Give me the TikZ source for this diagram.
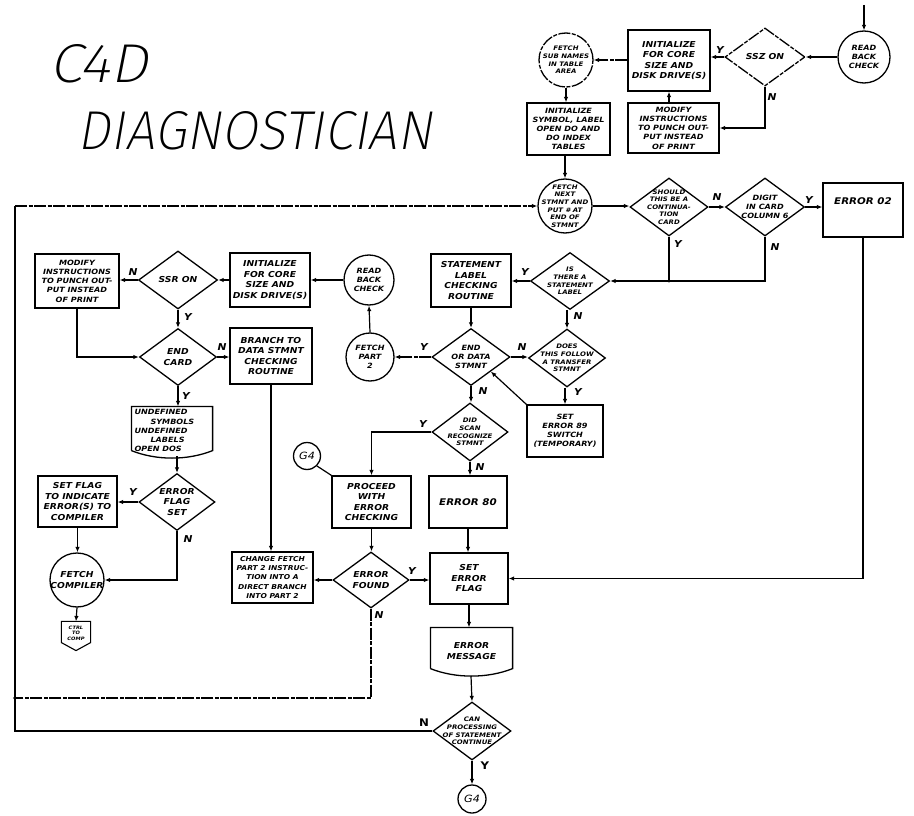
\documentclass[tikz,border=0pt]{standalone}
\usepackage{fontspec}
\usepackage{graphicx}
\usetikzlibrary{shapes.geometric,arrows.meta}
\newfontfamily\hand{DejaVu Sans}[FakeStretch=1.12]
\IfFontExistsTF{Fira Sans ExtraLight}{\newfontfamily\titlefont{Fira Sans ExtraLight}[FakeSlant=0.18]}{\newfontfamily\titlefont{Fira Sans}[FakeSlant=0.18]}
\begin{document}
\begin{tikzpicture}[x=1pt,y=-1pt,line width=1.2pt,
  >={Latex[length=5.5pt,width=4.5pt]},
  txt/.style={font=\hand\bfseries\itshape\fontsize{8.2}{10.5}\selectfont, align=center},
  big/.style={font=\hand\bfseries\itshape\fontsize{9.2}{11}\selectfont},
  small/.style={font=\hand\bfseries\itshape\fontsize{7.2}{9.2}\selectfont},
  smaller/.style={font=\hand\bfseries\itshape\fontsize{6.7}{9.2}\selectfont},
  tiny/.style={font=\hand\bfseries\itshape\fontsize{6.2}{7.6}\selectfont},
  box/.style={draw, rectangle, inner sep=0pt, line width=1.3pt, txt},
  dia/.style={draw, diamond, inner sep=0pt, line width=1.3pt},
  circ/.style={draw, circle, inner sep=0pt, line width=1.3pt},
  yn/.style={font=\hand\bfseries\itshape\fontsize{9.5}{9.5}\selectfont, inner sep=0pt},
  ynb/.style={font=\hand\bfseries\fontsize{10.5}{10.5}\selectfont, inner sep=0pt},
  ar/.style={->, line width=1.2pt},
  oar/.style={-{Latex[open,length=5.5pt,width=4.5pt]}, line width=1.2pt},
  rough/.style={dash pattern=on 12pt off 1.5pt on 4pt off 1.5pt}]
\fill[white] (0,0) rectangle (914,816);
\useasboundingbox (0,0) rectangle (914,816);

% title
\node[inner sep=0pt] (t1) at (99,64) {\resizebox{98pt}{38pt}{\titlefont C4D}};
\node[inner sep=0pt] (t2) at (255,131) {\resizebox{354pt}{38pt}{\titlefont DIAGNOSTICIAN}};

% top right group
\node[circ, minimum size=52pt, label={[txt,small]center:{READ\\BACK\\CHECK}}] (rbc1) at (864,57) {};
\node[dia, rough, minimum width=80pt, minimum height=58pt, label={[txt]center:SSZ ON}] (ssz) at (765,57) {};
\node[box, minimum width=82pt, minimum height=61pt] (init1) at (669,60.5) {INITIALIZE\\FOR CORE\\SIZE AND\\DISK DRIVE(S)};
\node[circ, rough, minimum size=54pt, label={[txt,tiny]center:{FETCH\\SUB NAMES\\IN TABLE\\AREA}}] (fsub) at (566,60) {};
\node[box, small, minimum width=83pt, minimum height=52pt] (initsym) at (568.5,129) {INITIALIZE\\SYMBOL, LABEL\\OPEN DO AND\\DO INDEX\\TABLES};
\node[box, small, minimum width=91pt, minimum height=50pt] (mod1) at (673.5,128) {MODIFY\\INSTRUCTIONS\\TO PUNCH OUT-\\PUT INSTEAD\\OF PRINT};

% second row
\node[circ, minimum size=54pt, label={[txt,tiny]center:{FETCH\\NEXT\\STMNT AND\\PUT \# AT\\END OF\\STMNT}}] (fnext) at (565,206) {};
\node[dia, minimum width=78pt, minimum height=58pt, label={[txt,tiny]center:{SHOULD\\THIS BE A\\CONTINUA-\\TION\\CARD}}] (should) at (669,207) {};
\node[dia, minimum width=79pt, minimum height=58pt, label={[txt,small]center:{DIGIT\\IN CARD\\COLUMN 6}}] (digit) at (765,207) {};
\node[box, minimum width=80pt, minimum height=54pt, label={[txt,big,yshift=9pt]center:ERROR 02}] (err02) at (863,210) {};

% statement label row
\node[dia, minimum width=79pt, minimum height=57pt, label={[txt,tiny]center:{IS\\THERE A\\STATEMENT\\LABEL}}] (isthere) at (570,281) {};
\node[box, minimum width=80pt, minimum height=53pt] (stlab) at (471,280.5) {STATEMENT\\LABEL\\CHECKING\\ROUTINE};
\node[dia, minimum width=78pt, minimum height=57pt, label={[txt,small]center:{END\\OR DATA\\STMNT}}] (enddata) at (471,357) {};
\node[dia, minimum width=77pt, minimum height=58pt, label={[txt,tiny]center:{DOES\\THIS FOLLOW\\A TRANSFER\\STMNT}}] (does) at (567,358) {};
\node[box, small, minimum width=76pt, minimum height=52pt] (set89) at (565,431) {SET\\ERROR 89\\SWITCH\\(TEMPORARY)};
\node[circ, minimum size=48pt, label={[txt,small]center:{FETCH\\PART\\2}}] (fpart2) at (370,357) {};
\node[circ, minimum size=50pt, label={[txt,small]center:{READ\\BACK\\CHECK}}] (rbc2) at (369,280) {};

% left group
\node[box, minimum width=80pt, minimum height=54pt] (init2) at (270,280) {INITIALIZE\\FOR CORE\\SIZE AND\\DISK DRIVE(S)};
\node[dia, minimum width=79pt, minimum height=58pt, label={[txt]center:SSR ON}] (ssr) at (178,280) {};
\node[box, small, minimum width=84pt, minimum height=54pt] (mod2) at (77,281) {MODIFY\\INSTRUCTIONS\\TO PUNCH OUT-\\PUT INSTEAD\\OF PRINT};
\node[dia, minimum width=77pt, minimum height=57pt, label={[txt]center:{END\\CARD}}] (endcard) at (178,357) {};
\node[box, minimum width=82pt, minimum height=56pt] (branch) at (271,356) {BRANCH TO\\DATA STMNT\\CHECKING\\ROUTINE};
\node[draw=none, minimum width=80pt, minimum height=43pt, inner sep=0pt] (undef) at (172,428.5) {};
\draw[line width=1.3pt] (undef.south west) -- (undef.north west) -- (undef.north east) -- (undef.south east)
  .. controls +(-25,10) and +(25,10) .. (undef.south west);
\node[txt, small, align=left, anchor=north west, inner sep=0pt] (undeft) at (134,409) {UNDEFINED\\\hspace*{16pt}SYMBOLS\\UNDEFINED\\\hspace*{16pt}LABELS\\OPEN DOS};
\coordinate (undefb) at (177,456);
\node[dia, minimum width=76pt, minimum height=57pt, label={[txt]center:{ERROR\\FLAG\\SET}}] (efset) at (177,502) {};
\node[box, minimum width=79pt, minimum height=51pt] (setflag) at (77.5,501.5) {SET FLAG\\TO INDICATE\\ERROR(S) TO\\COMPILER};
\node[circ, minimum size=54pt, label={[txt]center:{FETCH\\COMPILER}}] (fcomp) at (77,580) {};
\node[draw=none, minimum width=28pt, minimum height=20pt, inner sep=0pt] (ctrl) at (76,632) {};
\draw[line width=1.1pt] (ctrl.north west) -- (ctrl.north east) -- (ctrl.south east) -- ([yshift=-8pt]ctrl.south) -- (ctrl.south west) -- cycle;
\node[font=\hand\bfseries\itshape\fontsize{4.6}{5.4}\selectfont, align=center, inner sep=0pt] (ctrlt) at (76,633) {CTRL\\TO\\COMP};

% middle lower group
\node[dia, minimum width=76pt, minimum height=58pt, label={[txt,tiny]center:{DID\\SCAN\\RECOGNIZE\\STMNT}}] (did) at (470,432) {};
\node[box, minimum width=79pt, minimum height=52pt] (proceed) at (371.5,502) {PROCEED\\WITH\\ERROR\\CHECKING};
\node[circ, minimum size=27pt, label={[txt,font=\hand\itshape\fontsize{10}{10}\selectfont]center:G4}] (g4a) at (307,456) {};
\node[dia, minimum width=76pt, minimum height=56pt, label={[txt]center:{ERROR\\FOUND}}] (efound) at (371,580) {};
\node[box, smaller, minimum width=81pt, minimum height=51pt] (change) at (272.5,577.5) {CHANGE FETCH\\PART 2 INSTRUC-\\TION INTO A\\DIRECT BRANCH\\INTO PART 2};
\node[box, big, minimum width=78pt, minimum height=52pt] (err80) at (468,502) {ERROR 80};
\node[box, minimum width=78pt, minimum height=51pt] (seterr) at (469,578.5) {SET\\ERROR\\FLAG};
\node[draw=none, minimum width=81pt, minimum height=40pt, inner sep=0pt, label={[txt,yshift=-3pt]center:{ERROR\\MESSAGE}}] (errmsg) at (471.5,648) {};
\draw[line width=1.3pt] (errmsg.south west) -- (errmsg.north west) -- (errmsg.north east) -- (errmsg.south east)
  .. controls +(-25,10) and +(25,10) .. (errmsg.south west);
\coordinate (errmsgb) at (471,676);
\node[dia, minimum width=78pt, minimum height=58pt, label={[txt,tiny]center:{CAN\\PROCESSING\\OF STATEMENT\\CONTINUE}}] (canproc) at (472,731) {};
\node[circ, minimum size=28pt, label={[txt,font=\hand\itshape\fontsize{10}{10}\selectfont]center:G4}] (g4b) at (472,799) {};

% loop corners
\coordinate (L1) at (15,206);
\coordinate (L2) at (15,731);
\coordinate (L3) at (15,698);

% connectors
\coordinate (start) at (864,5);
\draw[ar] (start) -- (rbc1.north);
\draw[ar] (rbc1.west) -- (ssz.east);
\draw[ar] (ssz.west) -- (ssz.west -| init1.east);
\draw[ar,rough] (init1.west |- fsub.east) -- (fsub.east);
\draw[ar] (fsub.south) -- (fsub.south |- initsym.north);
\draw[ar] (init1.south |- mod1.north) -- (init1.south);
\draw[ar] (ssz.south) |- (mod1.east);
\draw[ar] (fnext.north |- initsym.south) -- (fnext.north);
\draw[ar,rough] (L1) -- (fnext.west);
\draw[ar] (fnext.east) -- (fnext.east -| should.west);
\draw[ar] (should.east) -- (digit.west);
\draw[ar] (digit.east) -- (digit.east -| err02.west);
\draw (should.south) -- (should.south |- isthere.east);
\draw[ar] (digit.south) |- (isthere.east);
\fill (should.south |- isthere.east) circle (1.6pt);
\draw[ar] (err02.south) |- (seterr.east);
\draw[ar] (isthere.west) -- (isthere.west -| stlab.east);
\draw[ar] (stlab.south) -- (stlab.south |- enddata.north);
\draw[ar] (does.north |- isthere.south) -- (does.north);
\draw[ar] (enddata.east) -- (enddata.east -| does.west);
\draw[ar] (set89.north |- does.south) -- (set89.north);
\draw[ar] (set89.north west) -- (enddata.south east);
\draw[ar,rough] (enddata.west) -- (fpart2.east);
\draw[ar] (fpart2.north) -- (rbc2.south);
\draw[ar] (rbc2.west) -- (rbc2.west -| init2.east);
\draw[ar] (init2.west) -- (init2.west -| ssr.east);
\draw[ar] (ssr.west) -- (ssr.west -| mod2.east);
\draw[ar] (ssr.south) -- (endcard.north);
\draw[oar] (mod2.south) |- (endcard.west);
\draw[ar] (endcard.east) -- (endcard.east -| branch.west);
\draw[ar] (branch.south) -- (branch.south |- change.north);
\draw[ar] (endcard.south) -- (endcard.south |- undef.north);
\draw[ar] (undefb) -- (efset.north);
\draw[ar] (efset.west) -- (efset.west -| setflag.east);
\draw[ar] (setflag.south) -- (setflag.south |- fcomp.north);
\draw[oar] (efset.south) |- (fcomp.east);
\draw[oar] (fcomp.south) -- (ctrl.north);
\draw[ar] (did.west) -| (proceed.north);
\draw (g4a.south east) -- (proceed.north west);
\draw[ar] (proceed.south) -- (proceed.south |- efound.north);
\draw[oar] (efound.west) -- (efound.west -| change.east);
\draw[oar] (efound.east) -- (efound.east -| seterr.west);
\draw[rough] (efound.south) |- (L3);
\fill (L3) circle (1.8pt);
\draw[ar] (enddata.south) -- (enddata.south |- did.north);
\draw[ar] (did.south) -- (did.south |- err80.north);
\draw[oar] (err80.south) -- (err80.south |- seterr.north);
\draw[ar] (seterr.south) -- (seterr.south |- errmsg.north);
\draw[ar] (errmsgb) -- (canproc.north);
\draw (canproc.west) -- (L2) -- (L1);
\draw[ar] (canproc.south) -- (g4b.north);

% Y / N labels
\node[yn] (l1) at (720,50) {Y};
\node[yn] (l2) at (772,97) {N};
\node[yn] (l3) at (717,197) {N};
\node[yn] (l4) at (809,200) {Y};
\node[yn] (l5) at (678,244) {Y};
\node[yn] (l6) at (775,247) {N};
\node[yn] (l7) at (525,272) {Y};
\node[yn] (l8) at (578,316) {N};
\node[yn] (l9) at (522,347) {N};
\node[yn] (l10) at (578,392) {Y};
\node[yn] (l11) at (424,347) {Y};
\node[yn] (l12) at (483,391) {N};
\node[yn] (l13) at (133,272) {N};
\node[yn] (l14) at (188,317) {Y};
\node[yn] (l15) at (222,347) {N};
\node[yn] (l16) at (186,396) {Y};
\node[yn] (l17) at (133,492) {Y};
\node[yn] (l18) at (188,539) {N};
\node[yn] (l19) at (423,424) {Y};
\node[yn] (l20) at (480,467) {N};
\node[yn] (l21) at (412,571) {Y};
\node[yn] (l22) at (379,615) {N};
\node[ynb] (l23) at (424,723) {N};
\node[ynb] (l24) at (485,766) {Y};
\end{tikzpicture}
\end{document}
